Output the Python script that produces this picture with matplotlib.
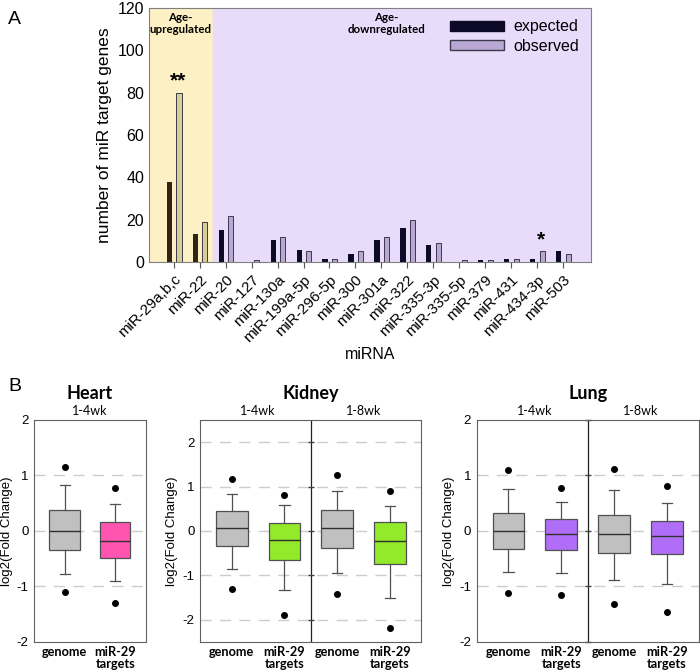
import matplotlib.pyplot as plt
import numpy as np
from matplotlib.patches import Patch

plt.rcParams['font.family'] = ['Liberation Sans', 'DejaVu Sans']

# ---- panel A data ----
mirnas = ['miR-29a,b,c', 'miR-22', 'miR-20', 'miR-127', 'miR-130a', 'miR-199a-5p',
          'miR-296-5p', 'miR-300', 'miR-301a', 'miR-322', 'miR-335-3p', 'miR-335-5p',
          'miR-379', 'miR-431', 'miR-434-3p', 'miR-503']
expected = [38, 13.5, 15, 0, 10.5, 5.5, 1.5, 4, 10.5, 16, 8, 0, 1, 1.5, 1.5, 5]
observed = [80, 19, 22, 1, 12, 5, 1.5, 5, 12, 20, 9, 1, 1, 1.5, 5, 4]
n_up = 2  # first two are age-upregulated
stars = {0: '**', 14: '*'}

# ---- panel B data: whislo, q1, med, q3, whishi, outliers... ----
heart_14_genome = [-0.78, -0.35, 0.0, 0.37, 0.82, 1.16, -1.10]
heart_14_mir29 = [-0.90, -0.49, -0.18, 0.16, 0.48, 0.78, -1.30]
kidney_14_genome = [-0.87, -0.35, 0.075, 0.44, 0.84, 1.17, -1.30]
kidney_14_mir29 = [-1.34, -0.66, -0.20, 0.18, 0.58, 0.82, -1.90]
kidney_18_genome = [-0.94, -0.38, 0.075, 0.48, 0.90, 1.27, -1.43]
kidney_18_mir29 = [-1.51, -0.74, -0.23, 0.20, 0.56, 0.89, -2.18]
lung_14_genome = [-0.75, -0.32, 0.0, 0.33, 0.75, 1.10, -1.12]
lung_14_mir29 = [-0.76, -0.35, -0.06, 0.21, 0.52, 0.77, -1.16]
lung_18_genome = [-0.88, -0.40, -0.06, 0.28, 0.73, 1.11, -1.32]
lung_18_mir29 = [-0.96, -0.42, -0.10, 0.18, 0.50, 0.81, -1.47]
box_labels = ['genome', 'miR-29\ntargets']

fig = plt.figure(figsize=(7, 6.72), dpi=100)

# ================= panel A =================
ax = fig.add_axes([0.213, 0.610, 0.631, 0.378])
x = np.arange(len(mirnas))
ax.axvspan(-1.5, n_up - 0.5, color='#fdf0c4', zorder=0)
ax.axvspan(n_up - 0.5, len(mirnas) + 1, color='#e9dcfb', zorder=0)
exp_col = ['#2e2610' if i < n_up else '#0c0a26' for i in x]
obs_col = ['#d9cd96' if i < n_up else '#b9a8d4' for i in x]
ax.bar(x - 0.17, expected, width=0.2, color=exp_col, zorder=2)
ax.bar(x + 0.2, observed, width=0.2, color=obs_col, edgecolor='#3a3a4a',
       linewidth=0.7, zorder=2)
for i, s in stars.items():
    ax.text(x[i] + 0.15, observed[i] + 1, s, ha='center', va='bottom',
            fontsize=15, fontweight='bold')
ax.set_xlim(-0.95, len(mirnas) + 0.07)
ax.set_ylim(0, 120)
ax.set_yticks(range(0, 121, 20))
ax.set_xticks(x)
ax.set_xticklabels(mirnas, rotation=45, ha='right', rotation_mode='anchor',
                   fontsize=11)
ax.tick_params(axis='y', labelsize=11.5, length=0)
ax.tick_params(axis='x', length=4, color='#555555')
ax.set_ylabel('number of miR target genes', fontsize=12.5)
ax.set_xlabel('miRNA', fontsize=11.5, labelpad=2)
for sp in ax.spines.values():
    sp.set_color('#808080')
ax.text(0.25, 118, 'Age-\nupregulated', ha='center', va='top', fontsize=8.3,
        fontweight='bold', family=['Lato', 'DejaVu Sans'], linespacing=1.1)
ax.text(8.2, 118, 'Age-\ndownregulated', ha='center', va='top', fontsize=8.3,
        fontweight='bold', family=['Lato', 'DejaVu Sans'], linespacing=1.1)
ax.legend(handles=[Patch(facecolor='#0c0a26', edgecolor='#0c0a26', label='expected'),
                   Patch(facecolor='#b9a8d4', edgecolor='#3a3a4a', label='observed')],
          loc='upper right', frameon=False, fontsize=11.5, handlelength=3.4,
          handleheight=0.6, borderaxespad=0.3, labelspacing=0.3, handletextpad=0.6)
fig.text(0.012, 0.965, 'A', fontsize=14)

# ================= panel B =================
panels = [
    ('Heart', [0.049, 0.045, 0.159, 0.330], 2, ['1-4wk'],
     [[heart_14_genome, heart_14_mir29]], '#ff55b0'),
    ('Kidney', [0.286, 0.045, 0.316, 0.330], 2.5, ['1-4wk', '1-8wk'],
     [[kidney_14_genome, kidney_14_mir29], [kidney_18_genome, kidney_18_mir29]], '#92ea2a'),
    ('Lung', [0.681, 0.045, 0.317, 0.330], 2, ['1-4wk', '1-8wk'],
     [[lung_14_genome, lung_14_mir29], [lung_18_genome, lung_18_mir29]], '#b06ef8'),
]

for title, rect, ylim, periods, groups, col in panels:
    ax = fig.add_axes(rect)
    stats, colors, pos = [], [], []
    for g, pair in enumerate(groups):
        for k, v in enumerate(pair):
            stats.append(dict(whislo=v[0], q1=v[1], med=v[2], q3=v[3],
                              whishi=v[4], fliers=v[5:]))
            colors.append('#c0c0c0' if k == 0 else col)
            pos.append(2 * g + k + 1)
    bp = ax.bxp(stats, positions=pos, widths=0.6, patch_artist=True,
                boxprops=dict(edgecolor='#505050', linewidth=0.9),
                medianprops=dict(color='#303030', linewidth=1.0),
                whiskerprops=dict(color='#505050', linewidth=0.9),
                capprops=dict(color='#505050', linewidth=0.9),
                flierprops=dict(marker='o', markerfacecolor='black',
                                markeredgecolor='black', markersize=4),
                capwidths=0.2)
    for b, c in zip(bp['boxes'], colors):
        b.set_facecolor(c)
    n = len(pos)
    ax.set_xlim(0.4, n + 0.6)
    ax.set_ylim(-ylim, ylim)
    yt = np.arange(-2, 3)
    ax.set_yticks(yt)
    ax.set_yticklabels([str(t) for t in yt])
    for t in yt:
        if abs(t) < ylim:
            ax.axhline(t, color='#cccccc', linewidth=1.0, dashes=(8, 6), zorder=0)
    ax.set_xticks(pos)
    ax.set_xticklabels(box_labels * len(groups), fontsize=9.2, fontweight='bold',
                       family=['Lato', 'DejaVu Sans'], linespacing=1.05)
    ax.tick_params(axis='x', length=0, pad=3)
    ax.tick_params(axis='y', labelsize=9.5, length=0, pad=4)
    ax.set_ylabel('log2(Fold Change)', fontsize=9.5, labelpad=3)
    for sp in ax.spines.values():
        sp.set_color('#606060')
    for g in range(1, len(groups)):
        ax.axvline(2 * g + 0.5, color='#202020', linewidth=0.9)
        # small tick marks on the divider
        ax.plot([2 * g + 0.5] * len(yt), yt, linestyle='none', marker='_',
                color='#404040', markersize=5, clip_on=False)
    for g, p in enumerate(periods):
        ax.text(2 * g + 1.5, ylim * 1.03, p, ha='center', va='bottom', fontsize=9,
                family=['Lato', 'DejaVu Sans'])
    ax.text((n + 1) / 2, ylim * 1.16, title, ha='center', va='bottom', fontsize=13,
            fontweight='bold', family=['Lato', 'DejaVu Sans'])

fig.text(0.012, 0.418, 'B', fontsize=14)

fig.savefig('out.png', dpi=100)
